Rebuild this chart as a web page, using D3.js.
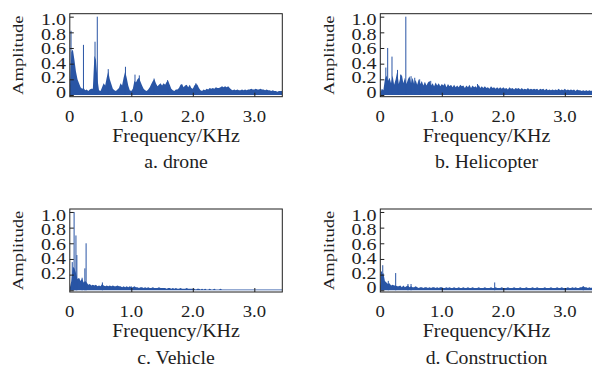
<!DOCTYPE html>
<html>
<head>
<meta charset="utf-8">
<script src="https://cdn.jsdelivr.net/npm/d3@7"></script>
<style>
  body { margin: 0; background: #fff; }
  svg { display: block; }
</style>
</head>
<body>
<svg id="chart"></svg>
<script>
// Size of the page
const width = 592;
const height = 367;

// Spectrum floor, amplitude x100, one value per 0.025 kHz bin (0 .. 3.45 kHz)
const freqStep = 0.025;

const droneAmp = [
  5, 55, 58, 45, 30, 20, 15, 10, 8, 9,
  6, 7, 5, 7, 8, 8, 50, 45, 20, 6,
  5, 10, 15, 12, 22, 30, 20, 14, 8, 6,
  5, 7, 9, 15, 12, 22, 30, 22, 12, 6,
  5, 8, 18, 16, 20, 22, 17, 12, 8, 6,
  5, 7, 10, 14, 18, 20, 15, 11, 13, 15,
  12, 15, 13, 17, 18, 13, 8, 6, 5, 7,
  7, 9, 13, 14, 10, 12, 13, 10, 13, 9,
  8, 12, 14, 13, 9, 6, 5, 7, 6, 8,
  7, 9, 8, 9, 8, 10, 9, 9, 10, 11,
  10, 11, 10, 11, 9, 7, 6, 7, 6, 7,
  6, 6, 7, 6, 7, 6, 7, 7, 8, 7,
  7, 8, 7, 7, 8, 7, 7, 6, 7, 6,
  6, 5, 6, 5, 5, 4, 5, 5, 5
];

const heliAmp = [
  3, 8, 6, 20, 25, 18, 22, 15, 25, 13,
  20, 30, 14, 22, 26, 15, 22, 14, 20, 24,
  15, 22, 14, 19, 13, 20, 14, 18, 12, 17,
  12, 16, 18, 12, 15, 11, 16, 12, 15, 11,
  14, 12, 15, 10, 14, 11, 13, 10, 13, 10,
  12, 10, 13, 11, 12, 9, 12, 10, 13, 9,
  12, 10, 11, 9, 13, 9, 11, 9, 11, 9,
  10, 8, 11, 9, 10, 8, 10, 8, 10, 8,
  10, 8, 9, 7, 10, 8, 9, 7, 9, 8,
  9, 7, 9, 7, 8, 7, 9, 7, 8, 7,
  8, 7, 8, 6, 8, 7, 8, 6, 8, 6,
  7, 6, 7, 6, 7, 6, 8, 6, 7, 6,
  8, 6, 7, 6, 7, 6, 7, 5, 7, 6,
  6, 5, 6, 5, 6, 5, 6, 5, 6
];

const vehicleAmp = [
  3, 12, 30, 28, 22, 14, 16, 12, 15, 10,
  12, 10, 7, 8, 6, 7, 6, 7, 5, 6,
  5, 8, 6, 5, 6, 5, 6, 5, 6, 5,
  5, 6, 5, 5, 4, 5, 4, 5, 4, 5,
  4, 4, 5, 4, 4, 3, 4, 4, 3, 4,
  3, 4, 3, 3, 4, 3, 3, 3, 4, 3,
  3, 3, 3, 2, 3, 3, 2, 3, 2, 3,
  2, 2, 3, 2, 2, 2, 3, 2, 2, 2,
  2, 2, 1, 2, 2, 1, 2, 1, 2, 1,
  1, 2, 1, 1, 2, 1, 1, 1, 2, 1,
  1, 1, 1, 1, 1, 1, 1, 1, 1, 1,
  1, 1, 1, 1, 1, 1, 1, 1, 1, 1,
  1, 1, 1, 1, 1, 1, 1, 1, 1, 1,
  1, 1, 1, 1, 1, 1, 1, 1, 1
];

const constructionAmp = [
  5, 20, 22, 12, 10, 8, 9, 6, 7, 6,
  6, 5, 5, 6, 4, 6, 4, 5, 6, 4,
  5, 4, 4, 5, 4, 3, 4, 4, 3, 4,
  4, 3, 4, 3, 4, 4, 3, 4, 3, 4,
  4, 3, 3, 4, 3, 4, 3, 3, 4, 3,
  3, 4, 3, 3, 4, 3, 3, 4, 3, 3,
  4, 3, 3, 3, 4, 3, 3, 3, 4, 3,
  3, 3, 4, 3, 3, 4, 3, 3, 3, 4,
  3, 3, 3, 4, 3, 3, 3, 4, 3, 3,
  3, 4, 3, 3, 3, 4, 3, 3, 3, 4,
  3, 3, 4, 3, 3, 3, 3, 4, 3, 3,
  3, 4, 3, 3, 3, 4, 3, 3, 4, 3,
  3, 3, 4, 3, 3, 4, 3, 4, 3, 3,
  4, 4, 5, 4, 4, 3, 4, 3, 4
];

// Narrow peaks [kHz, amplitude]
const droneSpikes = [[0.02, 0.82], [0.222, 0.64], [0.41, 0.68], [0.447, 1.0], [0.625, 0.33],
  [0.905, 0.36], [1.06, 0.26], [1.13, 0.25], [1.37, 0.21], [1.59, 0.19], [2.05, 0.15]];
const heliSpikes = [[0.09, 0.35], [0.12, 0.6], [0.19, 0.49], [0.28, 0.32], [0.33, 0.26],
  [0.415, 1.0], [0.5, 0.24], [0.56, 0.22], [0.64, 0.2], [0.82, 0.18], [1.58, 0.14]];
const vehicleSpikes = [[0.04, 0.36], [0.07, 1.0], [0.1, 0.7], [0.115, 0.45], [0.2, 0.16],
  [0.245, 0.28], [0.265, 0.6], [0.53, 0.1], [1.0, 0.05]];
const constructionSpikes = [[0.02, 0.24], [0.04, 0.32], [0.13, 0.12], [0.25, 0.22],
  [0.45, 0.08], [0.5, 0.08], [1.86, 0.1], [3.3, 0.05]];

// Axis ticks
const xTicks = [1, 2, 3];
const xTickLabels = ["0", "1.0", "2.0", "3.0"];
const xLabelValues = [0, 1, 2, 3];
const yTicks = [0, 0.2, 0.4, 0.6, 0.8, 1.0];
const yLabelsFull = [0, 0.2, 0.4, 0.6, 0.8, 1.0];
const yLabelsNoZero = [0.2, 0.4, 0.6, 0.8, 1.0];

const captions = ["a. drone", "b. Helicopter", "c. Vehicle", "d. Construction"];

const blue = "#2955a5";
const ink = "#1e1e1e";
const serif = "'Liberation Serif', 'Times New Roman', serif";

// Panel layout
const pw = 212.5, ph = 83;
const panels = [
  { amp: droneAmp, spikes: droneSpikes, yLabels: yLabelsFull, left: 69.8, top: 13.7 },
  { amp: heliAmp, spikes: heliSpikes, yLabels: yLabelsFull, left: 380.3, top: 13.7 },
  { amp: vehicleAmp, spikes: vehicleSpikes, yLabels: yLabelsNoZero, left: 69.8, top: 209 },
  { amp: constructionAmp, spikes: constructionSpikes, yLabels: yLabelsFull, left: 380.3, top: 209 }
];

const svg = d3.select("#chart")
  .attr("width", width)
  .attr("height", height)
  .style("font-family", serif);

const x = d3.scaleLinear().domain([0, 3.455]).range([0, pw]);
const y = d3.scaleLinear().domain([-0.022, 1.038]).range([ph, 0]);

const area = d3.area()
  .x((d, i) => x(i * freqStep))
  .y0(y(0))
  .y1(d => y(d / 100));

panels.forEach((p, k) => {
  const g = svg.append("g").attr("transform", `translate(${p.left},${p.top})`);

  g.append("clipPath").attr("id", "clip" + k)
    .append("rect").attr("width", pw).attr("height", ph);

  const plot = g.append("g").attr("clip-path", `url(#clip${k})`);

  plot.append("path")
    .datum(p.amp)
    .attr("d", area)
    .attr("fill", blue);

  plot.selectAll("line.spike")
    .data(p.spikes)
    .join("line")
    .attr("class", "spike")
    .attr("x1", d => x(d[0])).attr("x2", d => x(d[0]))
    .attr("y1", y(0)).attr("y2", d => y(d[1]))
    .attr("stroke", blue)
    .attr("stroke-width", 1);

  // inward ticks
  const xAxis = g.append("g")
    .attr("transform", `translate(0,${ph})`)
    .call(d3.axisBottom(x).tickValues(xTicks).tickSizeInner(-4).tickSizeOuter(0).tickFormat(""));
  const yAxis = g.append("g")
    .call(d3.axisLeft(y).tickValues(yTicks).tickSizeInner(-4).tickSizeOuter(0).tickFormat(""));
  [xAxis, yAxis].forEach(a => {
    a.select(".domain").remove();
    a.selectAll("line").attr("stroke", ink);
  });

  // frame
  g.append("rect")
    .attr("width", pw).attr("height", ph)
    .attr("fill", "none")
    .attr("stroke", ink)
    .attr("stroke-width", 1);

  // x tick labels
  g.selectAll("text.xt")
    .data(xLabelValues)
    .join("text")
    .attr("class", "xt")
    .attr("transform", (d) => `translate(${x(d)},${ph + 25}) scale(1.07,1)`)
    .attr("text-anchor", "middle")
    .attr("font-size", 17.5)
    .attr("fill", ink)
    .text((d, i) => xTickLabels[i]);

  // y tick labels (set slightly tighter than the ticks, as in the figure)
  const mid = y(0.5);
  g.selectAll("text.yt")
    .data(p.yLabels)
    .join("text")
    .attr("class", "yt")
    .attr("transform", d => `translate(-3.8,${mid + (y(d) - mid) * 0.925 + 5.8}) scale(1.18,1)`)
    .attr("text-anchor", "end")
    .attr("font-size", 17)
    .attr("fill", ink)
    .text(d => d === 0 ? "0" : d.toFixed(1));

  g.append("text")
    .attr("transform", `translate(-46.7,${ph / 2}) rotate(-90) scale(1.2,1)`)
    .attr("text-anchor", "middle")
    .attr("font-size", 15.5)
    .attr("fill", ink)
    .text("Amplitude");

  g.append("text")
    .attr("transform", `translate(${pw / 2},${ph + 45}) scale(1.08,1)`)
    .attr("text-anchor", "middle")
    .attr("font-size", 18.5)
    .attr("fill", ink)
    .text("Frequency/KHz");

  g.append("text")
    .attr("transform", `translate(${pw / 2},${ph + 71.6}) scale(1.04,1)`)
    .attr("text-anchor", "middle")
    .attr("font-size", 19)
    .attr("fill", ink)
    .text(captions[k]);
});
</script>
</body>
</html>
